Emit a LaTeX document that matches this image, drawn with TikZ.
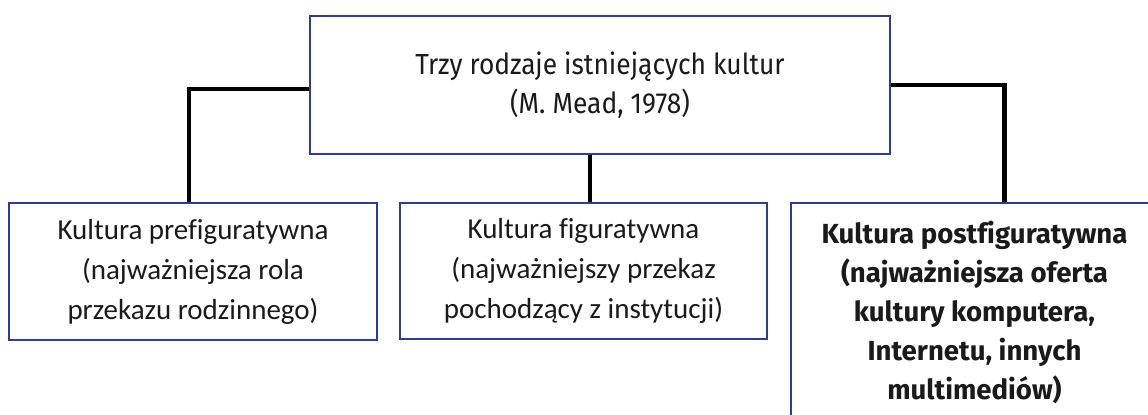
\documentclass[tikz,border=0pt]{standalone}
\usepackage{fontspec}
\setmainfont{Carlito}[Ligatures=NoCommon]
\newfontfamily\headfont[FakeStretch=0.91, Ligatures=NoCommon]{Fira Sans}
\newfontfamily\postfont[Ligatures=NoCommon]{Fira Sans}
\usetikzlibrary{positioning}
\definecolor{meadblue}{HTML}{2E3D8F}
\definecolor{meadtext}{HTML}{1A1A1A}
\tikzset{
  meadbox/.style={draw=meadblue, line width=1pt, fill=white, align=center, text=meadtext,
    anchor=north west, inner sep=0pt, font=\fontsize{14.5}{20}\selectfont},
  meadlink/.style={line width=2.4pt, draw=black},
}

\begin{document}
\begin{tikzpicture}[x=0.5pt, y=-0.5pt]
  \useasboundingbox (0,0) rectangle (1148,415);
  \clip (0,0) rectangle (1148,415);
  % typologia Mead
  \node[meadbox, minimum width=290pt, minimum height=69pt, font=\headfont\fontsize{14.5}{19.5}\selectfont] (mead) at (309,15)
    {Trzy rodzaje istniejących kultur\\(M. Mead, 1978)};
  % trzy kultury
  \node[meadbox, minimum width=184pt, minimum height=68.5pt] (pre) at (8,202)
    {Kultura prefiguratywna\\(najważniejsza rola\\przekazu rodzinnego)};
  \node[meadbox, minimum width=183.5pt, minimum height=68pt] (fig) at (399,202)
    {Kultura figuratywna\\(najważniejszy przekaz\\pochodzący z instytucji)};
  \node[meadbox, minimum width=183.5pt, minimum height=109.5pt, font=\postfont\bfseries\fontsize{13.8}{19.5}\selectfont] (post) at (790,202)
    {Kultura postfiguratywna\\(najważniejsza oferta\\kultury komputera,\\Internetu, innych\\multimediów)};
  % połączenia
  \draw[meadlink] ([yshift=-2pt]mead.west) -| ([xshift=-2pt]pre.north);
  \draw[meadlink] ([xshift=-5pt]mead.south) -- ([xshift=-5pt]mead.south |- fig.north);
  \draw[meadlink] (mead.east) -| ([xshift=15pt]post.north);
\end{tikzpicture}
\end{document}
